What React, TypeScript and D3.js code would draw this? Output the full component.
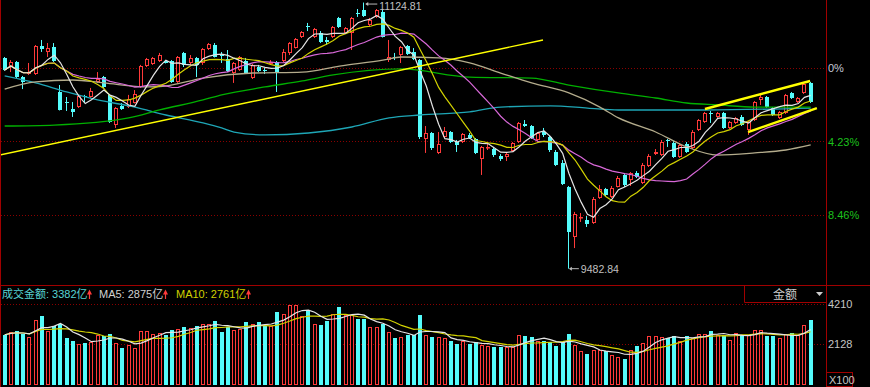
import React from 'react';
import * as d3 from 'd3';

const BASE = 10721;
const pctTicks = [0, 4.23, 8.46];
const volTicks = [4210, 2128];

const open = [10783,10727,10758,10665,10684,10684,10857,10820,10851,10573,10511,10468,10480,10550,10542,10635,10665,10555,10369,10487,10480,10505,10604,10733,10746,10764,10764,10764,10635,10814,10752,10783,10752,10838,10863,10807,10777,10690,10709,10764,10659,10727,10709,10746,10758,10764,10814,10844,10912,10980,10912,10937,10894,10912,11030,10937,10937,11062,11079,10986,11036,11067,10770,10789,10801,10857,10820,10770,10283,10320,10197,10295,10326,10264,10264,10308,10283,10160,10227,10221,10178,10172,10209,10264,10376,10363,10277,10326,10295,10203,10135,9987,9678,9796,9783,9765,9919,9975,9925,9987,10061,10030,10073,10011,10116,10190,10184,10274,10258,10172,10252,10227,10338,10388,10443,10419,10443,10351,10382,10419,10338,10400,10524,10542,10474,10413,10443,10567,10511,10567,10629];
const close = [10709,10758,10665,10635,10696,10857,10838,10844,10764,10462,10505,10450,10548,10544,10579,10653,10604,10388,10474,10468,10530,10561,10733,10777,10783,10801,10752,10635,10789,10740,10783,10740,10838,10869,10789,10795,10703,10752,10789,10690,10740,10703,10703,10758,10696,10820,10875,10900,10943,10974,10962,10881,10881,10974,10974,10968,11030,11057,11042,11017,11079,10912,10789,10783,10851,10807,10777,10295,10320,10227,10252,10332,10264,10246,10314,10289,10197,10234,10234,10184,10160,10190,10258,10382,10363,10289,10320,10308,10215,10123,10005,9709,9820,9802,9759,9913,9975,9937,9981,10042,9999,10073,10048,10123,10178,10203,10264,10268,10172,10246,10203,10326,10400,10443,10437,10443,10351,10388,10413,10369,10388,10511,10542,10480,10431,10450,10555,10536,10536,10622,10511];
const high = [10789,10770,10764,10672,10752,10863,10894,10875,10875,10616,10542,10511,10555,10555,10598,10696,10672,10561,10480,10505,10555,10585,10740,10783,10789,10814,10770,10770,10795,10820,10801,10789,10844,10875,10875,10820,10832,10758,10795,10783,10746,10740,10721,10770,10764,10838,10881,10906,10949,10999,10968,10949,10912,10980,11036,10974,11036,11085,11124.81,11030,11085,11079,10894,10814,10857,10863,10844,10777,10363,10326,10326,10357,10332,10277,10320,10320,10289,10240,10258,10234,10190,10203,10264,10388,10400,10369,10326,10351,10302,10215,10153,9993,9833,9826,9808,9925,9999,9981,9993,10055,10073,10079,10085,10135,10190,10221,10277,10283,10271,10258,10264,10338,10406,10450,10456,10450,10450,10394,10419,10431,10394,10517,10555,10548,10480,10456,10561,10573,10542,10629,10635];
const low = [10703,10696,10659,10591,10678,10678,10820,10789,10758,10459,10456,10419,10474,10505,10536,10629,10598,10382,10351,10462,10474,10502,10598,10727,10740,10758,10749,10629,10629,10727,10740,10665,10740,10832,10786,10752,10696,10629,10703,10684,10653,10696,10684,10740,10573,10758,10801,10841,10906,10949,10906,10875,10863,10906,10968,10931,10832,11036,11036,10974,11030,10909,10758,10770,10752,10801,10770,10283,10197,10215,10190,10289,10258,10203,10258,10283,10190,10061,10215,10172,10147,10147,10203,10258,10357,10283,10271,10295,10203,10116,9999,9482.84,9610,9771,9740,9759,9913,9931,9919,9984,9987,9993,10042,10005,10110,10184,10178,10234,10166,10166,10197,10221,10332,10382,10382,10413,10345,10345,10376,10363,10308,10394,10493,10474,10425,10406,10437,10530,10505,10561,10505];
const volume = [2613,2749,2785,2665,2489,3393,3565,2821,3045,3185,2437,2301,2125,2177,2213,2613,2561,2645,2177,1917,2057,1917,2821,2821,2665,2697,2613,2873,2905,3009,2957,3081,3165,3185,3341,2749,2993,2873,2905,3269,3185,3269,3081,3045,3773,3705,4137,4137,3601,3861,3185,3097,3305,3705,4033,3653,3617,3425,3425,3009,2993,3185,2733,2437,2489,2613,2613,3617,2577,2489,2489,2437,2265,2125,2265,2145,2213,2093,2041,1969,1953,1953,1969,2577,2561,2489,2265,2265,2213,2041,2213,2645,2057,1745,1625,1833,1833,1745,1573,1469,1365,1797,2005,2161,2525,2561,2489,2425,2561,2265,2561,2437,2665,2665,2821,2613,2613,2353,2697,2613,2577,2837,2873,2561,2525,2437,2645,2697,2613,3097,3382];

// longer moving averages at [candle index, price]
const ma60Pts: [number, number][] = [[0,10591],[5,10635],[11,10647],[16,10629],[23,10604],[26,10610],[32,10659],[40,10690],[48,10696],[54,10733],[61,10770],[64,10789],[70,10783],[75,10752],[80,10690],[85,10629],[91,10567],[96,10480],[99,10413],[105,10326],[110,10234],[115,10184],[121,10197],[126,10215],[130,10246]];
const ma120Pts: [number, number][] = [[0,10363],[8,10369],[20,10413],[25,10462],[32,10524],[35,10555],[42,10604],[48,10641],[53,10678],[64,10715],[75,10665],[85,10659],[91,10616],[99,10567],[105,10536],[110,10505],[115,10493],[121,10480],[126,10480],[130,10480]];
const ma250Pts: [number, number][] = [[0,10672],[5,10629],[10,10573],[15,10524],[21,10480],[26,10431],[32,10382],[35,10351],[37,10326],[42,10308],[49,10320],[56,10357],[62,10413],[67,10431],[75,10450],[80,10480],[88,10487],[94,10474],[99,10462],[113,10462],[130,10474]];
const trendLines = [
  { i0: -0.75, p0: 10184, i1: 86.83, p1: 10894 },
  { i0: 112.95, p0: 10468, i1: 129.9, p1: 10641 },
  { i0: 119.9, p0: 10326, i1: 131.0, p1: 10474 },
];

function movingAvg(arr: number[], n: number): number[] {
  return arr.map((_, i) => {
    const s = Math.max(0, i - n + 1);
    return d3.mean(arr.slice(s, i + 1)) as number;
  });
}

const RED = '#ff3a3a';
const CYAN = '#54fcfc';
const GRID = '#8a0000';
const BORDER = '#a00000';

export default function App() {
  React.useEffect(() => {
    document.body.style.margin = '0';
    document.body.style.background = '#000';
  }, []);
  const W = 870, H = 387;
  const n = close.length;
  const x = d3.scaleLinear().domain([0, n - 1]).range([4.67, 810.67]);
  const y = d3.scaleLinear().domain([BASE * (1 - 0.0846), BASE]).range([215, 68]);
  const yv = d3.scaleLinear().domain([0, 4210]).range([385, 304]);

  const ma5 = movingAvg(close, 5), ma10 = movingAvg(close, 10), ma20 = movingAvg(close, 20);
  const vma5 = movingAvg(volume, 5), vma10 = movingAvg(volume, 10);
  const line = d3.line<number>().x((_, i) => x(i)).y(d => y(d));
  const sparse = d3.line<[number, number]>().x(d => x(d[0])).y(d => y(d[1])).curve(d3.curveMonotoneX);
  const vline = d3.line<number>().x((_, i) => x(i)).y(d => yv(d));

  const arrow = (cx: number) => (
    <g key={'a' + cx}>
      <line x1={cx} x2={cx} y1={299} y2={293} stroke={RED} strokeWidth={1.2} />
      <path d={`M${cx - 2.5},294.5 L${cx},289.5 L${cx + 2.5},294.5 Z`} fill={RED} />
    </g>
  );

  const hiIdx = high.indexOf(d3.max(high) as number);
  const loIdx = low.indexOf(d3.min(low) as number);
  const hy = y(high[hiIdx]) + 1.5;
  const ly = y(low[loIdx]);

  return (
    <svg width={W} height={H} style={{ position: 'absolute', left: 0, top: 0, display: 'block' }}
      fontFamily="'Liberation Sans', Arial, 'Noto Sans CJK SC', sans-serif">
      <defs>
        <clipPath id="mainClip"><rect x={1} y={0} width={825} height={285} /></clipPath>
        <clipPath id="volClip"><rect x={1} y={304} width={825} height={83} /></clipPath>
      </defs>
      <rect width={W} height={H} fill="#000" />

      {pctTicks.map(p => {
        const yy = Math.round(y(BASE * (1 - p / 100))) + 0.5;
        return <line key={'g' + p} x1={1} x2={826} y1={yy} y2={yy} stroke={GRID} strokeDasharray="1,2" />;
      })}
      {volTicks.map(v => {
        const yy = Math.round(yv(v)) + 0.5;
        return <line key={'vg' + v} x1={1} x2={826} y1={yy} y2={yy} stroke={GRID} strokeDasharray="1,2" />;
      })}

      <g clipPath="url(#mainClip)">
        {close.map((c, i) => {
          const o = open[i];
          const up = c > o;
          const left = Math.round(x(i) - 2);
          const wx = left + 1.5;
          const top = Math.round(y(Math.max(o, c)));
          const bot = Math.max(top + 1, Math.round(y(Math.min(o, c))));
          const yh = y(high[i]), yl = y(low[i]);
          if (up) {
            return (
              <g key={'c' + i}>
                <line x1={wx} x2={wx} y1={yh} y2={top} stroke={RED} />
                <line x1={wx} x2={wx} y1={bot} y2={yl} stroke={RED} />
                <rect x={left + 0.5} y={top + 0.5} width={3} height={Math.max(0.5, bot - top - 1)} fill="#000" stroke={RED} />
              </g>
            );
          }
          return (
            <g key={'c' + i}>
              <line x1={wx} x2={wx} y1={yh} y2={yl} stroke={CYAN} />
              <rect x={left} y={top} width={4} height={Math.max(1, bot - top)} fill={CYAN} />
            </g>
          );
        })}
        <path d={sparse(ma250Pts) || ''} fill="none" stroke="#1ea6b6" strokeWidth={1.3} />
        <path d={sparse(ma120Pts) || ''} fill="none" stroke="#00b000" strokeWidth={1.3} />
        <path d={sparse(ma60Pts) || ''} fill="none" stroke="#b4ac8c" strokeWidth={1.3} />
        <path d={line(ma20) || ''} fill="none" stroke="#d868d8" strokeWidth={1.2} />
        <path d={line(ma10) || ''} fill="none" stroke="#d2d200" strokeWidth={1.2} />
        <path d={line(ma5) || ''} fill="none" stroke="#e4e4e4" strokeWidth={1.2} />
        {trendLines.map((t, k) => (
          <line key={'t' + k} x1={x(t.i0)} y1={y(t.p0)} x2={x(t.i1)} y2={y(t.p1)} stroke="#ffff00" strokeWidth={k === 0 ? 1.4 : 2.4} />
        ))}
      </g>

      {/* extreme labels */}
      <g>
        <line x1={x(hiIdx) + 2} x2={x(hiIdx) + 13} y1={hy} y2={hy} stroke="#b8b8b8" />
        <path d={`M${x(hiIdx) + 1},${hy} l3,-2 l0,4 Z`} fill="#b8b8b8" />
        <text x={x(hiIdx) + 15} y={hy + 6} fontSize={10.5} fill="#c0c0c0">{high[hiIdx].toFixed(2)}</text>
        <line x1={x(loIdx) + 1} x2={x(loIdx) + 10} y1={ly} y2={ly} stroke="#b8b8b8" />
        <path d={`M${x(loIdx)},${ly} l3,-2 l0,4 Z`} fill="#b8b8b8" />
        <text x={x(loIdx) + 12} y={ly + 4} fontSize={10.5} fill="#c0c0c0">{low[loIdx].toFixed(2)}</text>
      </g>

      <g clipPath="url(#volClip)">
        {volume.map((v, i) => {
          const up = close[i] > open[i];
          const left = Math.round(x(i) - 2);
          const top = Math.round(yv(v));
          return up
            ? <rect key={'v' + i} x={left + 0.5} y={top + 0.5} width={3} height={385 - top - 1} fill="#000" stroke={RED} />
            : <rect key={'v' + i} x={left} y={top} width={4} height={385 - top} fill={CYAN} />;
        })}
        <path d={vline(vma10) || ''} fill="none" stroke="#d2d200" strokeWidth={1.2} />
        <path d={vline(vma5) || ''} fill="none" stroke="#e4e4e4" strokeWidth={1.2} />
      </g>

      {/* frame */}
      <line x1={0.5} x2={0.5} y1={0} y2={H} stroke={BORDER} />
      <line x1={826.5} x2={826.5} y1={0} y2={H} stroke={BORDER} />
      <line x1={0} x2={W} y1={285.5} y2={285.5} stroke={BORDER} />
      <path d="M744.5,285.5 L744.5,302.5 L826.5,302.5" fill="none" stroke={BORDER} />
      <text x={785} y={298.5} fontSize={12} fill="#cccccc" textAnchor="middle" fontFamily="'Noto Sans CJK SC', sans-serif">金额</text>
      <path d="M816,292 L823,292 L819.5,296 Z" fill="#cccccc" />
      <rect x={826.5} y={372.5} width={26} height={14} fill="none" stroke={BORDER} />

      {/* axis labels */}
      {pctTicks.map(p => (
        <text key={'pl' + p} x={828} y={y(BASE * (1 - p / 100)) + 4} fontSize={11} fill={p === 0 ? '#c4c8d8' : '#1cc01c'}>
          {p === 0 ? '0%' : p.toFixed(2) + '%'}
        </text>
      ))}
      {volTicks.map(v => (
        <text key={'vl' + v} x={828} y={yv(v) + 4} fontSize={11} fill="#c4c4c4">{v}</text>
      ))}
      <text x={829} y={384} fontSize={11} fill="#c4c4c4">X100</text>

      {/* volume pane title */}
      <g fontSize={11} fontFamily="'Liberation Sans', 'Noto Sans CJK SC', sans-serif">
        <text x={2} y={298} fill="#58d4d4">成交金额: 3382亿</text>
        {arrow(89.5)}
        <text x={99} y={298} fill="#d0d0d0">MA5: 2875亿</text>
        {arrow(165.5)}
        <text x={176} y={298} fill="#d0d000">MA10: 2761亿</text>
        {arrow(248.5)}
      </g>
    </svg>
  );
}
